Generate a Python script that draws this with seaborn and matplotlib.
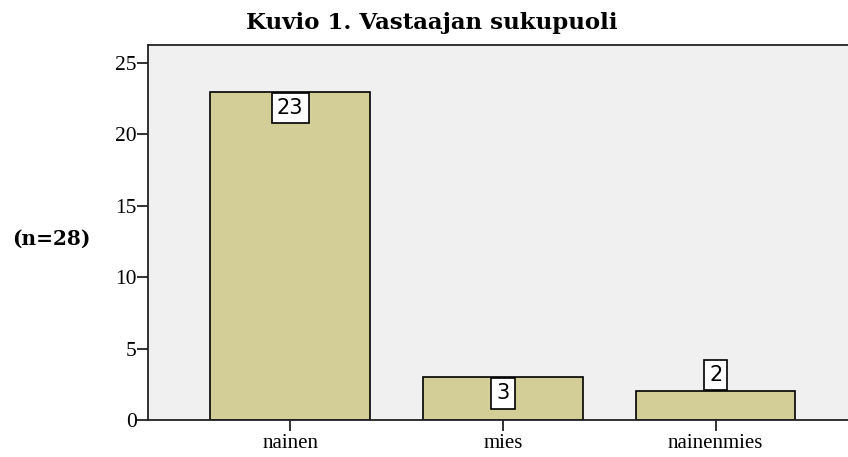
import matplotlib
matplotlib.use("Agg")
import matplotlib.pyplot as plt
import seaborn as sns
import pandas as pd

categories = ["nainen", "mies", "nainenmies"]
counts = [23, 3, 2]
yticks = [0, 5, 10, 15, 20, 25]
title = "Kuvio 1. Vastaajan sukupuoli"
ylabel = "(n=28)"

sns.set_style("white")
plt.rcParams['font.family'] = ['Liberation Serif', 'DejaVu Serif']
plt.rcParams['text.color'] = 'black'
plt.rcParams['xtick.color'] = 'black'
plt.rcParams['ytick.color'] = 'black'

df = pd.DataFrame({"cat": categories, "n": counts})

fig = plt.figure(figsize=(8.48, 4.57), dpi=100)
ax = fig.add_axes([148/848, 37/457, 1.0 - 148/848 + 0.002, 375/457])
ax.set_facecolor("#F0F0F0")

sns.barplot(data=df, x="cat", y="n", color="#D3CE98", edgecolor="black",
            linewidth=1.2, width=0.75, saturation=1, ax=ax)

ax.set_ylim(0, 26.26)
ax.set_xlim(-0.668, 2.63)
ax.set_yticks(yticks)
ax.set_yticklabels([str(t) for t in yticks], fontsize=15.5)
ax.tick_params(axis='y', left=True, direction='out', length=8, width=1.3, color='#222222', pad=0)
ax.tick_params(axis='x', bottom=True, direction='out', length=8, width=1.3, color='#222222',
               labelsize=15, pad=2)
ax.set_xlabel("")
ax.set_ylabel("")
for s in ["left", "top", "bottom", "right"]:
    ax.spines[s].set_color("#222222")
    ax.spines[s].set_linewidth(1.3)

# value labels
for i, v in enumerate(counts):
    if v >= 3:
        ax.annotate(str(v), xy=(i, v), xytext=(0, -4.5), textcoords="offset points",
                    ha="center", va="top", fontsize=15, family="DejaVu Sans",
                    bbox=dict(boxstyle="square,pad=0.25", fc="white", ec="black", lw=1.2))
    else:
        ax.annotate(str(v), xy=(i, v), xytext=(0, 4.5), textcoords="offset points",
                    ha="center", va="bottom", fontsize=15, family="DejaVu Sans",
                    bbox=dict(boxstyle="square,pad=0.25", fc="white", ec="black", lw=1.2))

fig.text(432/848, 1 - 23/457, title, ha="center", va="center", fontsize=16.5,
         fontweight="bold", family="DejaVu Serif")
fig.text(51/848, 1 - 239/457, ylabel, ha="center", va="center", fontsize=14.5,
         fontweight="bold", family="DejaVu Serif")

fig.savefig("out.png", dpi=100)
